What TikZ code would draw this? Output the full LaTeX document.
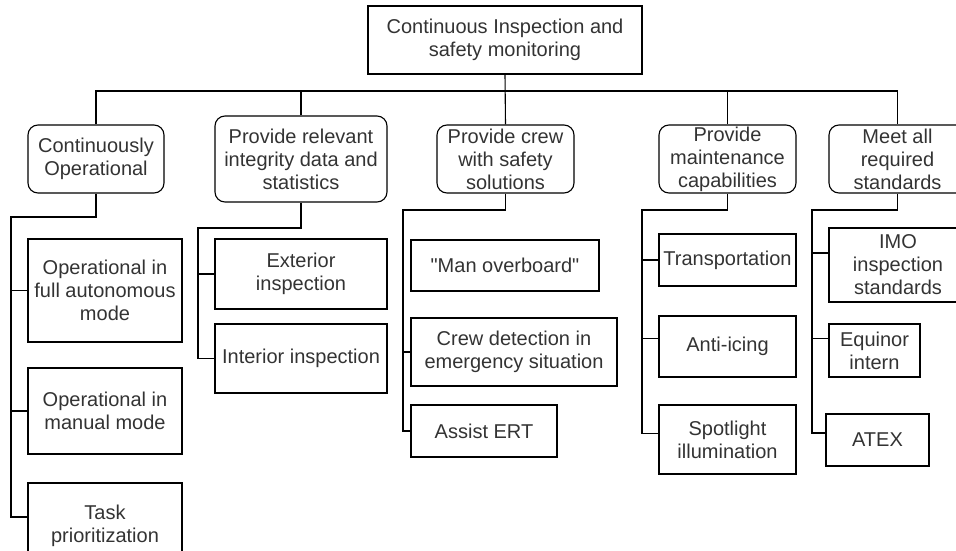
\documentclass[tikz,border=0pt]{standalone}
\usepackage{fontspec}
\setmainfont{Liberation Sans}[Ligatures=TeXOff]
\usepackage{xcolor}
\usepackage{tikz}
\usetikzlibrary{positioning, calc}
\definecolor{labelgray}{HTML}{333333}

\begin{document}
\begin{tikzpicture}[x=1pt, y=-1pt,
  line width=1.1pt,
  box/.style={draw, rectangle, align=center, inner sep=0pt, text=labelgray,
    font=\fontsize{20}{23}\selectfont},
  goal/.style={box, rounded corners=10pt}]
  \useasboundingbox (0,0) rectangle (956,551);
  \clip (0,0) rectangle (956,551);

  % Top goal
  \node[box, minimum width=274pt, minimum height=68pt] (root) at (505,40)
    {Continuous Inspection and\\safety monitoring};

  % Sub goals
  \node[goal, minimum width=136pt, minimum height=68pt] (oper) at (96,159)
    {Continuously\\Operational};
  \node[goal, minimum width=172pt, minimum height=86pt] (integ) at (301,159)
    {Provide relevant\\integrity data and\\statistics};
  \node[goal, minimum width=137pt, minimum height=68pt] (crew) at (505.5,159)
    {Provide crew\\with safety\\solutions};
  \node[goal, minimum width=137pt, minimum height=68pt] (maint) at (727.5,159)
    {Provide\\maintenance\\capabilities};
  \node[goal, minimum width=137pt, minimum height=68pt] (stand) at (897.5,159)
    {Meet all\\required\\standards};

  % Tasks under each sub goal
  \node[box, minimum width=154pt, minimum height=103pt] (auto) at (105,290.5)
    {Operational in\\full autonomous\\mode};
  \node[box, minimum width=154pt, minimum height=86pt] (manual) at (105,411)
    {Operational in\\manual mode};
  \node[box, minimum width=154pt, minimum height=86pt] (prio) at (105,526)
    {Task\\prioritization};

  \node[box, minimum width=172pt, minimum height=70pt] (ext) at (301,274)
    {Exterior\\inspection};
  \node[box, minimum width=172pt, minimum height=69pt] (int) at (301,358.5)
    {Interior inspection};

  \node[box, minimum width=188pt, minimum height=51pt] (mob) at (505,265.5)
    {"Man overboard"};
  \node[box, minimum width=206pt, minimum height=68pt] (detect) at (514,352)
    {Crew detection in\\emergency situation};
  \node[box, minimum width=146pt, minimum height=52pt] (ert) at (484,431)
    {Assist ERT};

  \node[box, minimum width=137pt, minimum height=52pt] (trans) at (727.5,260)
    {Transportation};
  \node[box, minimum width=137pt, minimum height=61pt] (icing) at (727.5,346.5)
    {Anti-icing};
  \node[box, minimum width=137pt, minimum height=69pt] (spot) at (727.5,439.5)
    {Spotlight\\illumination};

  \node[box, minimum width=138pt, minimum height=74pt] (imo) at (898,265)
    {IMO\\inspection\\standards};
  \node[box, minimum width=91pt, minimum height=53pt] (equinor) at (874.5,350.5)
    {Equinor\\intern};
  \node[box, minimum width=103pt, minimum height=52pt] (atex) at (877.5,440)
    {ATEX};

  % Bus from top goal
  \coordinate (bus) at (505,91);
  \draw (root.south) -- (crew.north);
  \draw (oper.north) |- (bus) -| (stand.north);
  \draw (integ.north) -- (integ.north |- bus);
  \draw (maint.north) -- (maint.north |- bus);

  % Spines and where they meet the boxes
  \coordinate (operspine) at (11,217);
  \coordinate (integspine) at (198,228);
  \coordinate (crewspine) at (403,210);
  \coordinate (maintspine) at (642,210);
  \coordinate (standspine) at (812,210);
  \coordinate (prioin) at ([yshift=9pt]prio.west);
  \coordinate (icingin) at ([yshift=8pt]icing.west);
  \coordinate (spotin) at ([yshift=6pt]spot.west);
  \coordinate (imoin) at ([yshift=12pt]imo.west);
  \coordinate (equinorin) at ([yshift=12pt]equinor.west);
  \coordinate (atexin) at ([yshift=7pt]atex.west);

  \draw (oper.south) |- (operspine) |- (prioin);
  \draw (operspine |- auto.west) -- (auto.west);
  \draw (operspine |- manual.west) -- (manual.west);

  \draw (integ.south) |- (integspine) |- (int.west);
  \draw (integspine |- ext.west) -- (ext.west);

  \draw (crew.south) |- (crewspine) |- (ert.west);
  \draw (crewspine |- detect.west) -- (detect.west);

  \draw (maint.south) |- (maintspine) |- (spotin);
  \draw (maintspine |- trans.west) -- (trans.west);
  \draw (maintspine |- icingin) -- (icingin);

  \draw (stand.south) |- (standspine) |- (atexin);
  \draw (standspine |- imoin) -- (imoin);
  \draw (standspine |- equinorin) -- (equinorin);
\end{tikzpicture}
\end{document}
